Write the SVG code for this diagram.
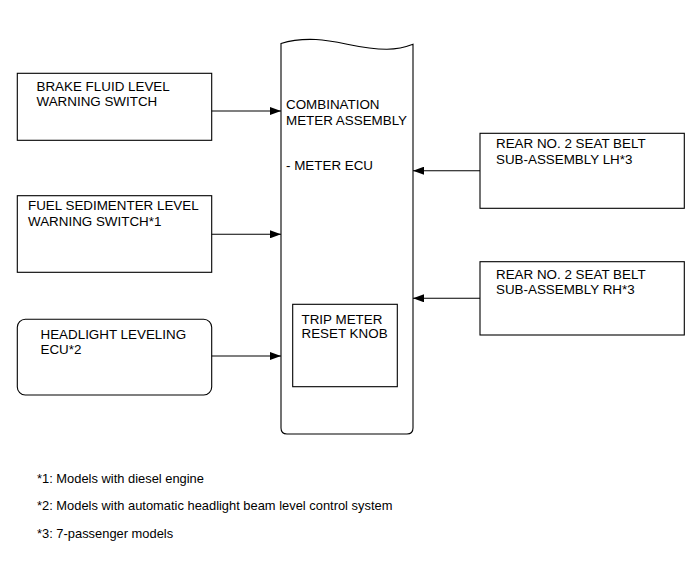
<svg xmlns="http://www.w3.org/2000/svg" width="690" height="564" viewBox="0 0 690 564">
<style>
.box{fill:#fff;stroke:#000;stroke-width:1.1}
.t{font-family:"Liberation Sans",Arial,sans-serif;font-size:13.4px;fill:#000}
.f{font-family:"Liberation Sans",Arial,sans-serif;font-size:12.9px;fill:#000}
.c{stroke:#000;stroke-width:1.1;fill:none}
</style>
<defs>
<marker id="ah" markerWidth="11" markerHeight="8" refX="11" refY="4" orient="auto" markerUnits="userSpaceOnUse">
<path d="M0,0 L11,4 L0,8 Z" fill="#000"/>
</marker>
</defs>
<rect width="690" height="564" fill="#fff"/>
<g id="meter">
<path class="box" d="M281,43.5 C292,40 305,39 316,39.5 C340,40.5 360,49.5 387,49.3 C398,49.2 406,47 413,44.3 L413,428 Q413,434 407,434 L287,434 Q281,434 281,428 Z"/>
<text class="t" x="286" y="109">COMBINATION</text>
<text class="t" x="286" y="125">METER ASSEMBLY</text>
<text class="t" x="286" y="170">- METER ECU</text>
</g>
<g id="trip">
<rect class="box" x="292.7" y="304.3" width="104.6" height="82.4"/>
<text class="t" x="301.5" y="323.5">TRIP METER</text>
<text class="t" x="301.5" y="337.5">RESET KNOB</text>
</g>
<g id="brake">
<rect class="box" x="17.3" y="73.3" width="194.4" height="67"/>
<text class="t" x="36.5" y="90.5">BRAKE FLUID LEVEL</text>
<text class="t" x="36.5" y="106">WARNING SWITCH</text>
</g>
<g id="fuel">
<rect class="box" x="17.3" y="195.7" width="194.4" height="76.6"/>
<text class="t" x="28" y="210">FUEL SEDIMENTER LEVEL</text>
<text class="t" x="28" y="225.5">WARNING SWITCH*1</text>
</g>
<g id="headlight">
<rect class="box" x="17.3" y="319.3" width="194.4" height="75.7" rx="8" ry="8"/>
<text class="t" x="40.5" y="338.5">HEADLIGHT LEVELING</text>
<text class="t" x="40.5" y="353.5">ECU*2</text>
</g>
<g id="seatLH">
<rect class="box" x="480" y="133.3" width="204.3" height="75"/>
<text class="t" x="496" y="147.5">REAR NO. 2 SEAT BELT</text>
<text class="t" x="496" y="163.5">SUB-ASSEMBLY LH*3</text>
</g>
<g id="seatRH">
<rect class="box" x="480" y="261.7" width="204.3" height="73.3"/>
<text class="t" x="496" y="278.5">REAR NO. 2 SEAT BELT</text>
<text class="t" x="496" y="293.5">SUB-ASSEMBLY RH*3</text>
</g>
<g id="connectors">
<line class="c" x1="211.7" y1="111" x2="281" y2="111" marker-end="url(#ah)"/>
<line class="c" x1="211.7" y1="234.3" x2="281" y2="234.3" marker-end="url(#ah)"/>
<line class="c" x1="211.7" y1="356" x2="281" y2="356" marker-end="url(#ah)"/>
<line class="c" x1="480" y1="170.7" x2="413" y2="170.7" marker-end="url(#ah)"/>
<line class="c" x1="480" y1="298.3" x2="413" y2="298.3" marker-end="url(#ah)"/>
</g>
<g id="notes">
<text class="f" x="37" y="483">*1: Models with diesel engine</text>
<text class="f" x="37" y="510">*2: Models with automatic headlight beam level control system</text>
<text class="f" x="37" y="537.5">*3: 7-passenger models</text>
</g>
</svg>
